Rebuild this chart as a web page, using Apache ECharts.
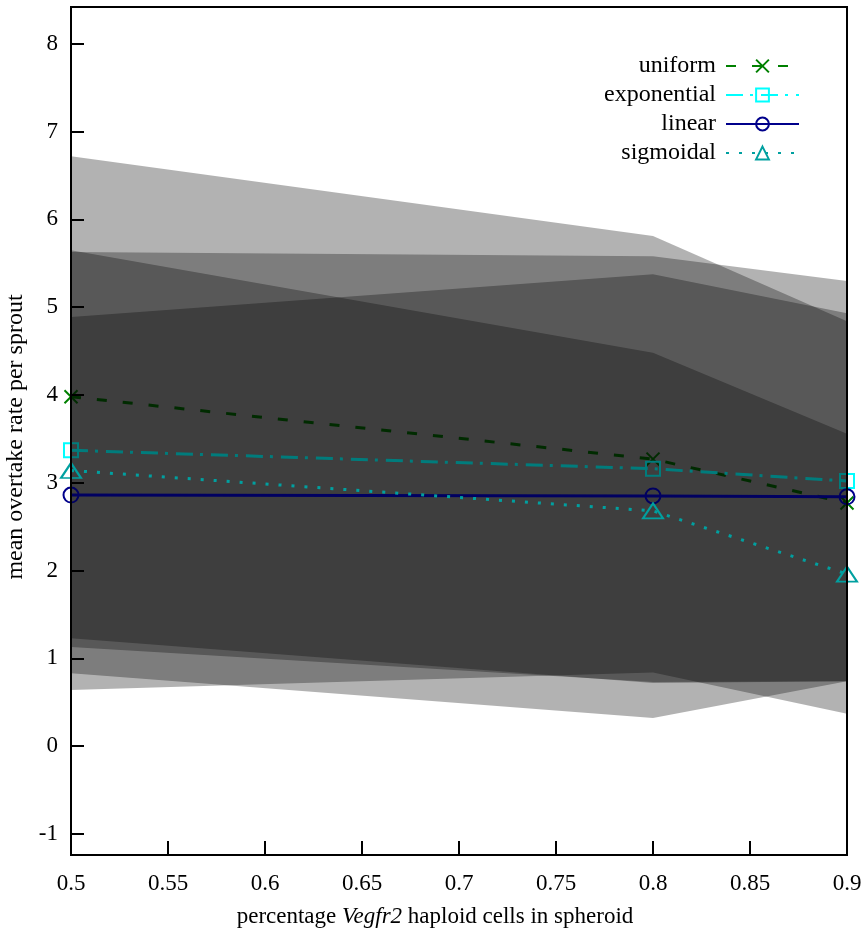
<!DOCTYPE html>
<html>
<head>
<meta charset="utf-8">
<script src="https://cdn.jsdelivr.net/npm/echarts@6/dist/echarts.min.js"></script>
<style>html,body{margin:0;padding:0;background:#fff}#c{width:865px;height:933px}</style>
</head>
<body>
<div id="c"></div>
<script>
const xValues = [0.5, 0.8, 0.9];
const seriesNames = ['uniform', 'exponential', 'linear', 'sigmoidal'];
const uniformMean = [3.98, 3.27, 2.77];
const uniformUpper = [6.72, 5.81, 4.84];
const uniformLower = [1.23, 0.72, 0.74];
const exponentialMean = [3.37, 3.16, 3.02];
const exponentialUpper = [5.63, 5.58, 5.30];
const exponentialLower = [1.13, 0.73, 0.74];
const linearMean = [2.86, 2.85, 2.84];
const linearUpper = [4.89, 5.375, 4.93];
const linearLower = [0.83, 0.32, 0.74];
const sigmoidalMean = [3.14, 2.68, 1.96];
const sigmoidalUpper = [5.65, 4.48, 3.56];
const sigmoidalLower = [0.64, 0.84, 0.37];
const yTicks = [-1, 0, 1, 2, 3, 4, 5, 6, 7, 8];
const xTicks = [0.5, 0.55, 0.6, 0.65, 0.7, 0.75, 0.8, 0.85, 0.9];

const FONT = 'Liberation Serif';
const means = [uniformMean, exponentialMean, linearMean, sigmoidalMean];
const uppers = [uniformUpper, exponentialUpper, linearUpper, sigmoidalUpper];
const lowers = [uniformLower, exponentialLower, linearLower, sigmoidalLower];
const styles = [
  {color: '#008000', type: [10, 16], symbol: 'path://M0,0L10,10M10,0L0,10', size: 13},
  {color: '#00ffff', type: [17, 7, 3, 8], symbol: 'rect', size: 14},
  {color: '#00008b', type: 'solid', symbol: 'circle', size: 15},
  {color: '#00a0a0', type: [3, 10], symbol: 'triangle', size: [20, 15]}
];

const series = [];
let z = 2;
seriesNames.forEach((name, k) => {
  const st = styles[k];
  const lo = lowers[k], up = uppers[k];
  series.push({
    name: name + ' band', type: 'custom', clip: true, silent: true, z: z++,
    data: xValues.map((x, i) => [x, lo[i], up[i]]),
    encode: {x: 0, y: [1, 2]},
    renderItem: (params, api) => {
      const i = params.dataIndex;
      if (i >= xValues.length - 1) return null;
      const pts = [
        api.coord([xValues[i], up[i]]),
        api.coord([xValues[i + 1], up[i + 1]]),
        api.coord([xValues[i + 1], lo[i + 1]]),
        api.coord([xValues[i], lo[i]])
      ];
      return {type: 'polygon', shape: {points: pts}, style: {fill: 'rgba(0,0,0,0.3)'}};
    }
  });
  series.push({
    name: name, type: 'line', data: xValues.map((x, i) => [x, means[k][i]]),
    symbol: st.symbol, symbolSize: st.size, showSymbol: true,
    lineStyle: {color: st.color, width: 3, type: st.type},
    itemStyle: {color: 'rgba(0,0,0,0)', borderColor: st.color, borderWidth: 2},
    z: z++
  });
});

const chart = echarts.init(document.getElementById('c'), null, {renderer: 'canvas'});
chart.setOption({
  animation: false,
  grid: {left: 71, right: 18, top: 7, bottom: 78, containLabel: false, outerBoundsMode: 'none',
    show: true, borderColor: '#000', borderWidth: 2, z: 60},
  legend: {
    data: seriesNames, orient: 'vertical', align: 'right', right: 60, top: 49,
    itemWidth: 73, itemHeight: 16, itemGap: 5,
    textStyle: {fontFamily: FONT, fontSize: 24, color: '#000', padding: [0, 5, 0, 0]}
  },
  xAxis: {
    type: 'value', min: 0.5, max: 0.9, z: 60,
    axisLine: {onZero: false, lineStyle: {color: '#000', width: 2}},
    axisTick: {inside: true, length: 14, lineStyle: {color: '#000', width: 2}, customValues: xTicks},
    axisLabel: {fontFamily: FONT, fontSize: 23, color: '#000', margin: 17, customValues: xTicks,
      formatter: (v) => String(Math.round(v * 100) / 100)},
    splitLine: {show: false},
    name: '{n|percentage }{i|Vegfr2}{n| haploid cells in spheroid}',
    nameLocation: 'middle', nameGap: 50,
    nameTextStyle: {padding: [0, 48, 0, 0], rich: {
      n: {fontFamily: FONT, fontSize: 23, color: '#000'},
      i: {fontFamily: FONT, fontSize: 23, color: '#000', fontStyle: 'italic'}
    }}
  },
  yAxis: {
    type: 'value', min: -1.24, max: 8.42, z: 60,
    axisLine: {show: true, onZero: false, lineStyle: {color: '#000', width: 2}},
    axisTick: {show: true, inside: true, length: 13, lineStyle: {color: '#000', width: 2}, customValues: yTicks},
    axisLabel: {fontFamily: FONT, fontSize: 23, color: '#000', margin: 13, customValues: yTicks},
    splitLine: {show: false},
    name: 'mean overtake rate per sprout', nameLocation: 'middle', nameGap: 40,
    nameTextStyle: {fontFamily: FONT, fontSize: 24, color: '#000', padding: [0, 12, 0, 0]}
  },
  series: series
});
</script>
</body>
</html>
